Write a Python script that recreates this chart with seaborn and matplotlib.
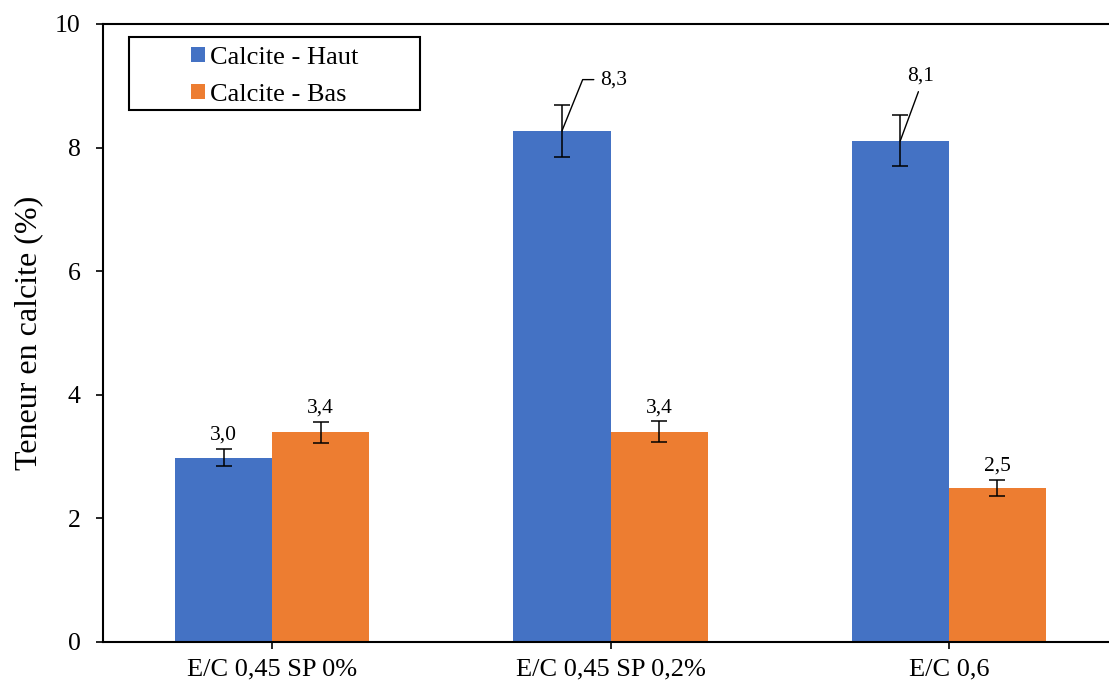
import matplotlib
matplotlib.use("Agg")
import matplotlib.pyplot as plt
from matplotlib.patches import Rectangle
import seaborn as sns
import pandas as pd

categories = ["E/C 0,45 SP 0%", "E/C 0,45 SP 0,2%", "E/C 0,6"]
series_names = ["Calcite - Haut", "Calcite - Bas"]
haut_values = [2.98, 8.27, 8.11]
bas_values = [3.39, 3.40, 2.49]
haut_err = [0.14, 0.42, 0.41]
bas_err = [0.17, 0.17, 0.13]
haut_labels = ["3,0", "8,3", "8,1"]
bas_labels = ["3,4", "3,4", "2,5"]
colors = ["#4472C4", "#ED7D31"]

df = pd.DataFrame({
    "cat": categories * 2,
    "serie": [series_names[0]] * 3 + [series_names[1]] * 3,
    "val": haut_values + bas_values,
})

sns.set_theme(style="white")
plt.rcParams["font.family"] = ["Liberation Serif", "DejaVu Serif"]
plt.rcParams["text.color"] = "black"
plt.rcParams["axes.labelcolor"] = "black"
plt.rcParams["xtick.color"] = "black"
plt.rcParams["ytick.color"] = "black"

fig = plt.figure(figsize=(11.09, 6.86), dpi=100)
ax = fig.add_axes([103 / 1109, 44 / 686, (1118 - 103) / 1109, 618 / 686])

sns.barplot(data=df, x="cat", y="val", hue="serie", order=categories,
            hue_order=series_names, palette=colors, width=0.574, gap=0,
            errorbar=None, saturation=1, ax=ax, linewidth=0)

n = len(categories)
patches = [p for p in ax.patches if p.get_height() > 0][:2 * n]
errs = haut_err + bas_err
labels = haut_labels + bas_labels
vals = haut_values + bas_values
for i, p in enumerate(patches):
    xc = p.get_x() + p.get_width() / 2
    ax.errorbar(xc, vals[i], yerr=errs[i], fmt="none", ecolor="black",
                elinewidth=1.1, capsize=6, capthick=1.1, zorder=5)

lab_fs = 15.5
for i, p in enumerate(patches):
    xc = p.get_x() + p.get_width() / 2
    top = vals[i] + errs[i]
    lab = labels[i]
    if i == 1:
        ax.annotate(lab, xy=(xc, vals[i]), xytext=(xc + 0.112, 9.1),
                    textcoords="data", fontsize=lab_fs, ha="left", va="center",
                    arrowprops=dict(arrowstyle="-", color="black", lw=1,
                                    shrinkA=2, shrinkB=0,
                                    connectionstyle="angle,angleA=0,angleB=68,rad=0",
                                    relpos=(0, 0.5)))
    elif i == 2:
        ax.annotate(lab, xy=(xc, vals[i]), xytext=(xc + 0.06, 9.0),
                    textcoords="data", fontsize=lab_fs, ha="center", va="bottom",
                    arrowprops=dict(arrowstyle="-", color="black", lw=1,
                                    shrinkA=2, shrinkB=0,
                                    relpos=(0.5, 0)))
    else:
        ax.text(xc, top + 0.07, lab, fontsize=lab_fs, ha="center", va="bottom")

ax.set_ylim(0, 10)
ax.set_xlim(-0.5, 2.5)
ax.set_yticks([0, 2, 4, 6, 8, 10])
ax.set_xlabel("")
ax.set_ylabel("Teneur en calcite (%)", fontsize=23, labelpad=8.5)
ax.tick_params(axis="both", length=5, width=1.2, color="black",
               direction="out", bottom=True, left=True)
ax.tick_params(axis="x", labelsize=19, pad=7)
ax.tick_params(axis="y", labelsize=18.5, pad=11)
for s in ["left", "bottom", "top"]:
    ax.spines[s].set_visible(True)
    ax.spines[s].set_color("black")
    ax.spines[s].set_linewidth(1.5)
ax.spines["right"].set_visible(False)

# legend frame (drawn as a box) and frameless legend inside it
ax.add_patch(Rectangle((0.0256, 0.8608), 0.2867, 0.1182, transform=ax.transAxes,
                       fill=True, facecolor="white", edgecolor="black",
                       linewidth=1.5, zorder=6))
handles, lbls = ax.get_legend_handles_labels()
leg = ax.legend(handles, lbls, loc="upper left", bbox_to_anchor=(0.0867, 0.963),
                fontsize=19, frameon=False,
                handlelength=0.53, handleheight=0.53, handletextpad=0.2,
                borderpad=0, labelspacing=0.55, borderaxespad=0)
leg.set_zorder(7)

fig.savefig("out.png", dpi=100)
